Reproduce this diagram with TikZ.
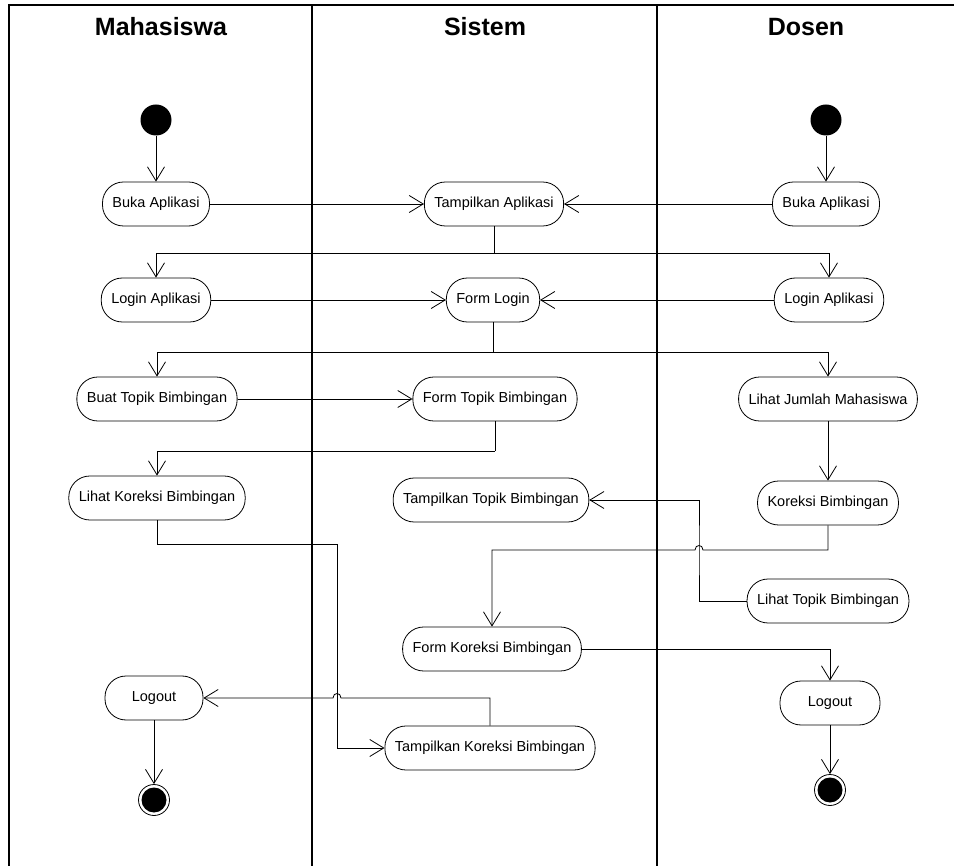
\documentclass[tikz,border=0pt]{standalone}
\usepackage{fontspec}
\setmainfont{Liberation Sans}
\usetikzlibrary{arrows.meta}

\begin{document}
\begin{tikzpicture}[x=1pt, y=-1pt,
  lane/.style={line width=1.4pt},
  act/.style={draw, line width=0.8pt, rectangle, rounded corners=21pt,
    minimum height=44pt, inner xsep=10pt, inner ysep=0pt,
    font=\fontsize{14.5}{17}\selectfont},
  startnode/.style={circle, fill=black, minimum size=31pt, inner sep=0pt},
  endnode/.style={circle, draw, line width=0.8pt, minimum size=31pt, inner sep=0pt,
    path picture={\fill[black] (path picture bounding box.center) circle[radius=12.5pt];}},
  head/.style={font=\bfseries\fontsize{25}{30}\selectfont},
  arr/.style={line width=0.8pt, -{Straight Barb[length=14pt,width=17pt]}},
  ln/.style={line width=0.8pt}]

\useasboundingbox (0,0) rectangle (954,866);

% swimlane frame
\draw[lane] (9,866) -- (9,5) -- (954,5);
\draw[lane] (312,5) -- (312,866);
\draw[lane] (657,5) -- (657,866);

% lane headings
\node[head] (hm) at (161,27) {Mahasiswa};
\node[head] (hs) at (485,27) {Sistem};
\node[head] (hd) at (806,27) {Dosen};

% activities
\node[startnode] (s1) at (156,120) {};
\node[startnode] (s2) at (826,120) {};
\node[act] (bm) at (156,204) {Buka Aplikasi};
\node[act] (ta) at (494,204) {Tampilkan Aplikasi};
\node[act] (bd) at (826,204) {Buka Aplikasi};
\node[act] (lm) at (156,300) {Login Aplikasi};
\node[act] (fl) at (493,300) {Form Login};
\node[act] (ld) at (829,300) {Login Aplikasi};
\node[act] (bt) at (157,399) {Buat Topik Bimbingan};
\node[act] (ft) at (495,399) {Form Topik Bimbingan};
\node[act] (lj) at (828,399) {Lihat Jumlah Mahasiswa};
\node[act] (lk) at (157,498) {Lihat Koreksi Bimbingan};
\node[act] (tt) at (491,500) {Tampilkan Topik Bimbingan};
\node[act] (kb) at (828,503) {Koreksi Bimbingan};
\node[act] (lt) at (828,601) {Lihat Topik Bimbingan};
\node[act] (fk) at (492,649) {Form Koreksi Bimbingan};
\node[act, minimum width=98pt] (lom) at (154,698) {Logout};
\node[act, minimum width=100pt] (lod) at (830,703) {Logout};
\node[act] (tk) at (490,748) {Tampilkan Koreksi Bimbingan};
\node[endnode] (e1) at (154,800) {};
\node[endnode] (e2) at (830,790) {};

% branch points and line jumps
\coordinate (b1) at (494,253);
\coordinate (b2) at (493,352);
\coordinate (b3) at (495,451);
\coordinate (c5) at (337,544);
\coordinate (j1) at (699,550);
\coordinate (j2) at (337,698);

% flows
\draw[arr] (s1) -- (bm);
\draw[arr] (s2) -- (bd);
\draw[arr] (bm) -- (ta);
\draw[arr] (bd) -- (ta);
\draw[ln] (ta.south) -- (b1);
\draw[arr] (b1) -| (lm.north);
\draw[arr] (b1) -| (ld.north);
\draw[arr] (lm) -- (fl);
\draw[arr] (ld) -- (fl);
\draw[ln] (fl.south) -- (b2);
\draw[arr] (b2) -| (bt.north);
\draw[arr] (b2) -| (lj.north);
\draw[arr] (bt) -- (ft);
\draw[ln] (ft.south) -- (b3);
\draw[arr] (b3) -| (lk.north);
\draw[arr] (lj) -- (kb);
\draw[arr] (kb.south) |- ([xshift=4pt]j1)
  .. controls ([xshift=4pt,yshift=6pt]j1) and ([xshift=-4pt,yshift=6pt]j1) .. ([xshift=-4pt]j1)
  -| (fk.north);
\draw[arr] (lt.west) -| (j1) |- (tt.east);
\draw[arr] (fk.east) -| (lod.north);
\draw[arr] (lod) -- (e2);
\draw[arr] (lk.south) |- (c5) |- (tk.west);
\draw[arr] (tk.north) |- ([xshift=4pt]j2)
  .. controls ([xshift=4pt,yshift=6pt]j2) and ([xshift=-4pt,yshift=6pt]j2) .. ([xshift=-4pt]j2)
  -- (lom.east);
\draw[arr] (lom) -- (e1);

\end{tikzpicture}
\end{document}
